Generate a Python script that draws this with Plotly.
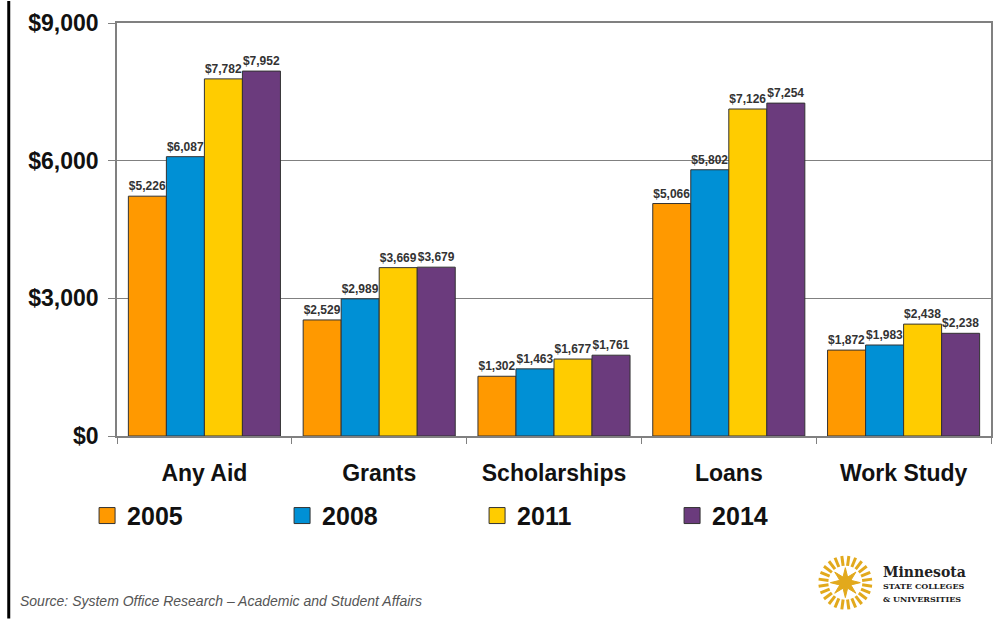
import math
import plotly.graph_objects as go

categories = ["Any Aid", "Grants", "Scholarships", "Loans", "Work Study"]
years = ["2005", "2008", "2011", "2014"]
values_2005 = [5226, 2529, 1302, 5066, 1872]
values_2008 = [6087, 2989, 1463, 5802, 1983]
values_2011 = [7782, 3669, 1677, 7126, 2438]
values_2014 = [7952, 3679, 1761, 7254, 2238]
colors = ["#FF9900", "#0090D5", "#FFCC00", "#6B3B7D"]
y_ticks = [0, 3000, 6000, 9000]
y_tick_labels = ["$0", "$3,000", "$6,000", "$9,000"]

W, H = 1003, 619
L, R, T, B = 117, 10, 22, 183
PW, PH = W - L - R, H - T - B

def px(x):
    return (x - L) / PW

def py(y):
    return (H - B - y) / PH

FONT = "Liberation Sans, Arial, sans-serif"
SERIF = "DejaVu Serif, Liberation Serif, serif"

fig = go.Figure()
for yr, vals, col in zip(years, [values_2005, values_2008, values_2011, values_2014], colors):
    fig.add_trace(go.Bar(
        name=yr, x=categories, y=vals, showlegend=False,
        marker=dict(color=col, line=dict(color="#333333", width=1)),
        text=[f"${v:,}" for v in vals], textposition="outside",
        textfont=dict(family=FONT, size=12, color="#333333", weight="bold"),
        cliponaxis=False,
    ))
# legend entries (square swatches)
for yr, col in zip(years, colors):
    fig.add_trace(go.Scatter(
        name=yr, x=[None], y=[None], mode="markers",
        marker=dict(symbol="square", size=16, color=col, line=dict(color="#333333", width=1)),
        showlegend=True,
    ))

shapes = []
# left page border
shapes.append(dict(type="line", xref="paper", yref="paper", x0=px(8.5), x1=px(8.5), y0=py(0), y1=py(H),
                   line=dict(color="black", width=3)))
# logo star
cx, cy = 847, 583
pts = []
for i in range(16):
    ang = math.pi / 2 + i * math.pi / 8
    r = 15 if i % 2 == 0 else 6
    pts.append((cx + r * math.cos(ang), cy - r * math.sin(ang)))
path = "M " + " L ".join(f"{px(x):.5f},{py(y):.5f}" for x, y in pts) + " Z"
shapes.append(dict(type="path", xref="paper", yref="paper", path=path,
                   fillcolor="#E2A91C", line=dict(color="#E2A91C", width=1)))
for i in range(24):
    ang = i * 2 * math.pi / 24 + math.pi / 24
    x0, y0 = cx + 17 * math.cos(ang), cy - 17 * math.sin(ang)
    x1, y1 = cx + 27 * math.cos(ang), cy - 27 * math.sin(ang)
    shapes.append(dict(type="line", xref="paper", yref="paper", x0=px(x0), y0=py(y0), x1=px(x1), y1=py(y1),
                       line=dict(color="#E2A91C", width=3)))

annotations = [
    dict(text="Source: System Office Research – Academic and Student Affairs", xref="paper", yref="paper",
         x=px(18), y=py(601), xanchor="left", yanchor="middle", showarrow=False,
         font=dict(family=FONT, size=14, color="#555555", style="italic")),
    dict(text="Minnesota", xref="paper", yref="paper", x=px(883), y=py(572), xanchor="left", yanchor="middle",
         showarrow=False, font=dict(family=SERIF, size=14, color="#222222", weight="bold")),
    dict(text="STATE COLLEGES", xref="paper", yref="paper", x=px(883), y=py(586), xanchor="left", yanchor="middle",
         showarrow=False, font=dict(family=SERIF, size=8, color="#222222", weight="bold")),
    dict(text="&amp; UNIVERSITIES", xref="paper", yref="paper", x=px(883), y=py(599), xanchor="left", yanchor="middle",
         showarrow=False, font=dict(family=SERIF, size=8, color="#222222", weight="bold")),
]

fig.update_layout(
    width=W, height=H,
    margin=dict(l=L, r=R, t=T, b=B),
    paper_bgcolor="white", plot_bgcolor="white",
    barmode="group", bargap=0.13, bargroupgap=0,
    font=dict(family=FONT, color="#111111"),
    showlegend=True,
    legend=dict(orientation="h", x=px(87), y=py(516), xanchor="left", yanchor="middle",
                entrywidth=150, entrywidthmode="pixels", borderwidth=0,
                font=dict(family=FONT, size=25, color="#111111", weight="bold"),
                bgcolor="rgba(0,0,0,0)"),
    shapes=shapes, annotations=annotations,
)
fig.update_xaxes(
    showline=True, linecolor="#808080", linewidth=1.5, mirror=True,
    ticks="outside", tickson="boundaries", ticklen=6, tickcolor="#808080",
    tickfont=dict(family=FONT, size=23, color="#111111", weight="bold"),
    ticklabelstandoff=16,
)
fig.update_yaxes(
    range=[0, 9000], tickvals=y_ticks, ticktext=y_tick_labels,
    showline=True, linecolor="#808080", linewidth=1.5, mirror=True,
    showgrid=True, gridcolor="#808080", gridwidth=1,
    ticks="outside", ticklen=7, tickcolor="#808080",
    tickfont=dict(family=FONT, size=23, color="#111111", weight="bold"),
    ticklabelstandoff=5, zeroline=False,
)
fig.write_html("out.html", config={"displayModeBar": False})

# remove default body margin so the figure sits at the page origin
with open("out.html", "r", encoding="utf-8") as f:
    html = f.read()
html = html.replace("<body>", '<body style="margin:0;padding:0;overflow:hidden">', 1)
with open("out.html", "w", encoding="utf-8") as f:
    f.write(html)
